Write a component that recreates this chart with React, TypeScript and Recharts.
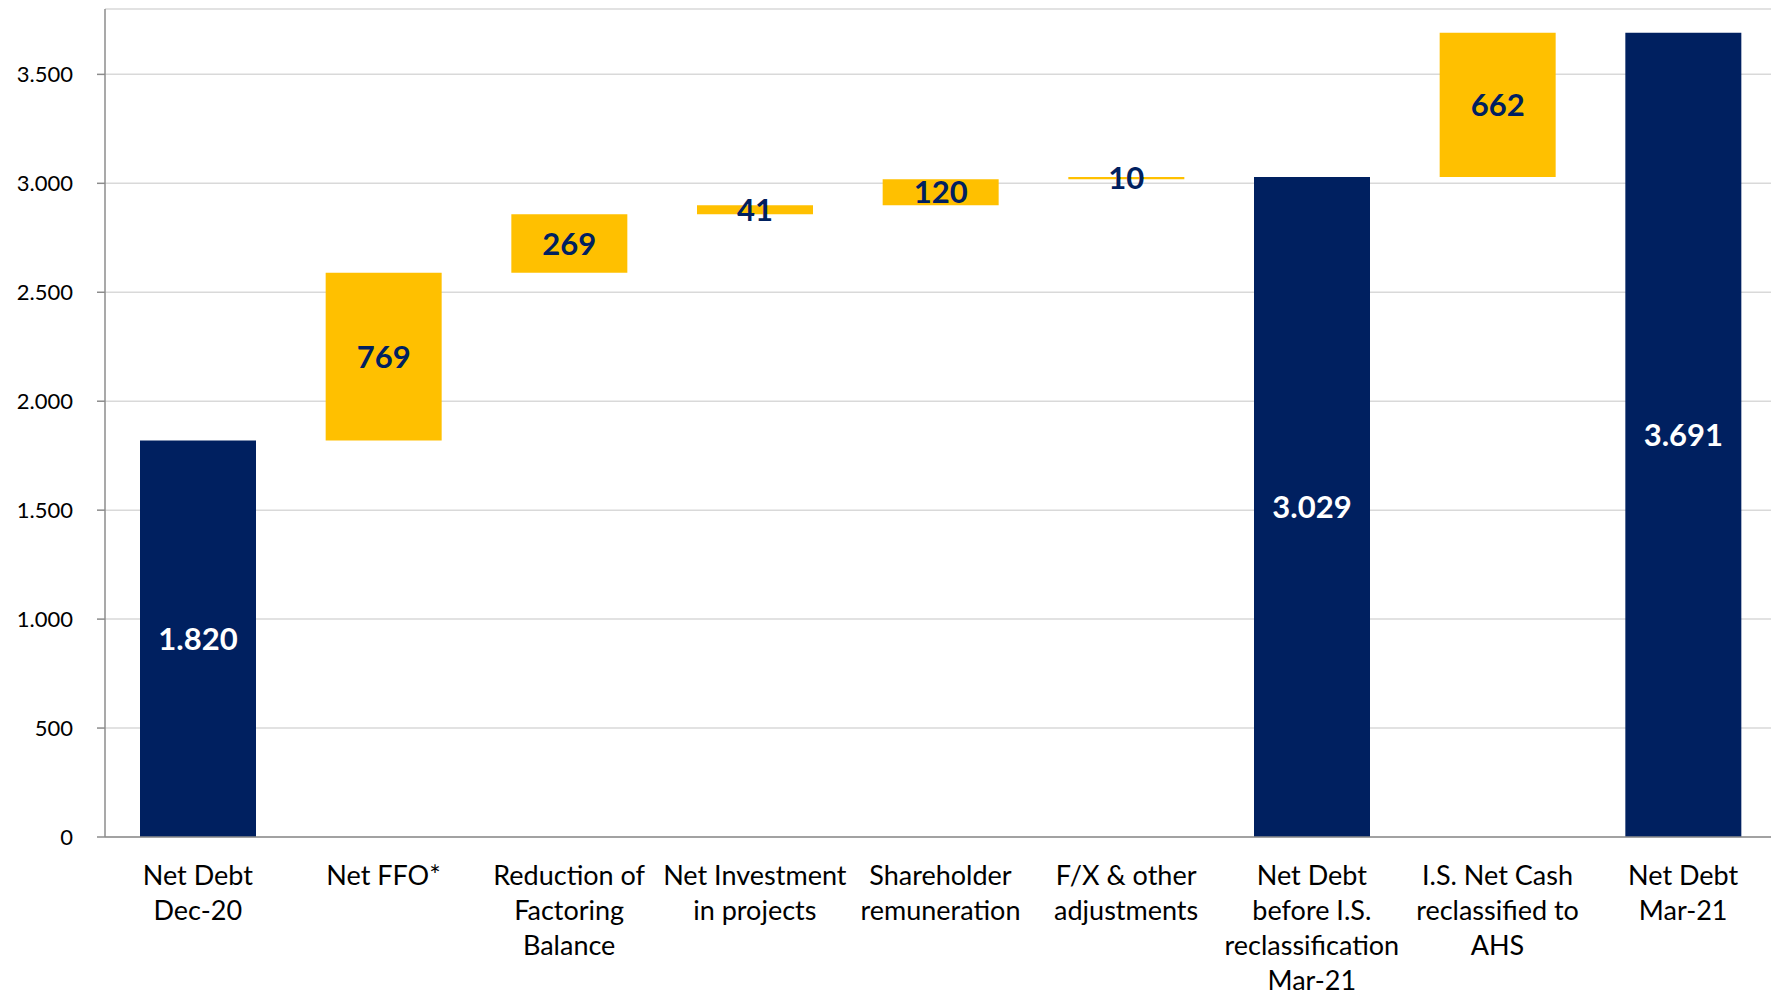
import { BarChart, Bar, XAxis, YAxis, CartesianGrid, LabelList } from "recharts"

const categories = [
  ["Net Debt", "Dec-20"],
  ["Net FFO*"],
  ["Reduction of", "Factoring", "Balance"],
  ["Net Investment", "in projects"],
  ["Shareholder", "remuneration"],
  ["F/X & other", "adjustments"],
  ["Net Debt", "before I.S.", "reclassification", "Mar-21"],
  ["I.S. Net Cash", "reclassified to", "AHS"],
  ["Net Debt", "Mar-21"],
]

// invisible offset under each step
const baseValues = [0, 1820, 2589, 2858, 2899, 3019, 0, 3029, 0]
const stepValues = [null, 769, 269, 41, 120, 10, null, 662, null]
const totalValues = [1820, null, null, null, null, null, 3029, null, 3691]

const yTicks = [0, 500, 1000, 1500, 2000, 2500, 3000, 3500]

const NAVY = "#002060"
const GOLD = "#FFC000"
const FONT = "Lato, 'Open Sans', sans-serif"

const data = categories.map((lines, i) => ({
  name: lines.join(" "),
  lines,
  base: baseValues[i],
  step: stepValues[i],
  total: totalValues[i],
}))

function fmt(v: any) {
  if (v == null || v === 0) return ""
  return String(v).replace(/\B(?=(\d{3})+(?!\d))/g, ".")
}

function CategoryTick(props: any) {
  const { x, y, payload } = props
  const lines = categories[payload.index] || [payload.value]
  return (
    <text x={x} y={y + 40} textAnchor="middle" fill="#000" fontSize={27} fontFamily={FONT}>
      {lines.map((l, i) => (
        <tspan key={i} x={x} dy={i === 0 ? 0 : 35}>{l}</tspan>
      ))}
    </text>
  )
}

export default function App() {
  return (
    <div style={{ position: "absolute", left: 0, top: 0, width: 1771, height: 995, overflow: "hidden", background: "#fff" }}>
      <BarChart
        width={1776}
        height={995}
        data={data}
        margin={{ top: 9, right: 0, left: 0, bottom: 0 }}
        barSize={116}
      >
        <CartesianGrid vertical={false} stroke="#d9d9d9" strokeWidth={1.5} />
        <XAxis
          dataKey="name"
          height={158}
          interval={0}
          tickLine={false}
          stroke="#8c8c8c"
          strokeWidth={1.5}
          tick={<CategoryTick />}
        />
        <YAxis
          width={105}
          domain={[0, 3800]}
          ticks={yTicks}
          tickSize={8}
          tickMargin={24}
          stroke="#8c8c8c"
          strokeWidth={1.5}
          tick={{ fill: "#000", fontSize: 22, fontFamily: FONT }}
          tickFormatter={(v) => fmt(v) || "0"}
        />
        <Bar dataKey="base" stackId="w" fill="transparent" isAnimationActive={false} />
        <Bar dataKey="step" stackId="w" fill={GOLD} isAnimationActive={false}>
          <LabelList
            dataKey="step"
            position="center"
            formatter={fmt}
            fill={NAVY}
            fontSize={31}
            fontWeight={700}
            fontFamily={FONT}
          />
        </Bar>
        <Bar dataKey="total" stackId="w" fill={NAVY} isAnimationActive={false}>
          <LabelList
            dataKey="total"
            position="center"
            formatter={fmt}
            fill="#fff"
            fontSize={31}
            fontWeight={700}
            fontFamily={FONT}
          />
        </Bar>
      </BarChart>
    </div>
  )
}
